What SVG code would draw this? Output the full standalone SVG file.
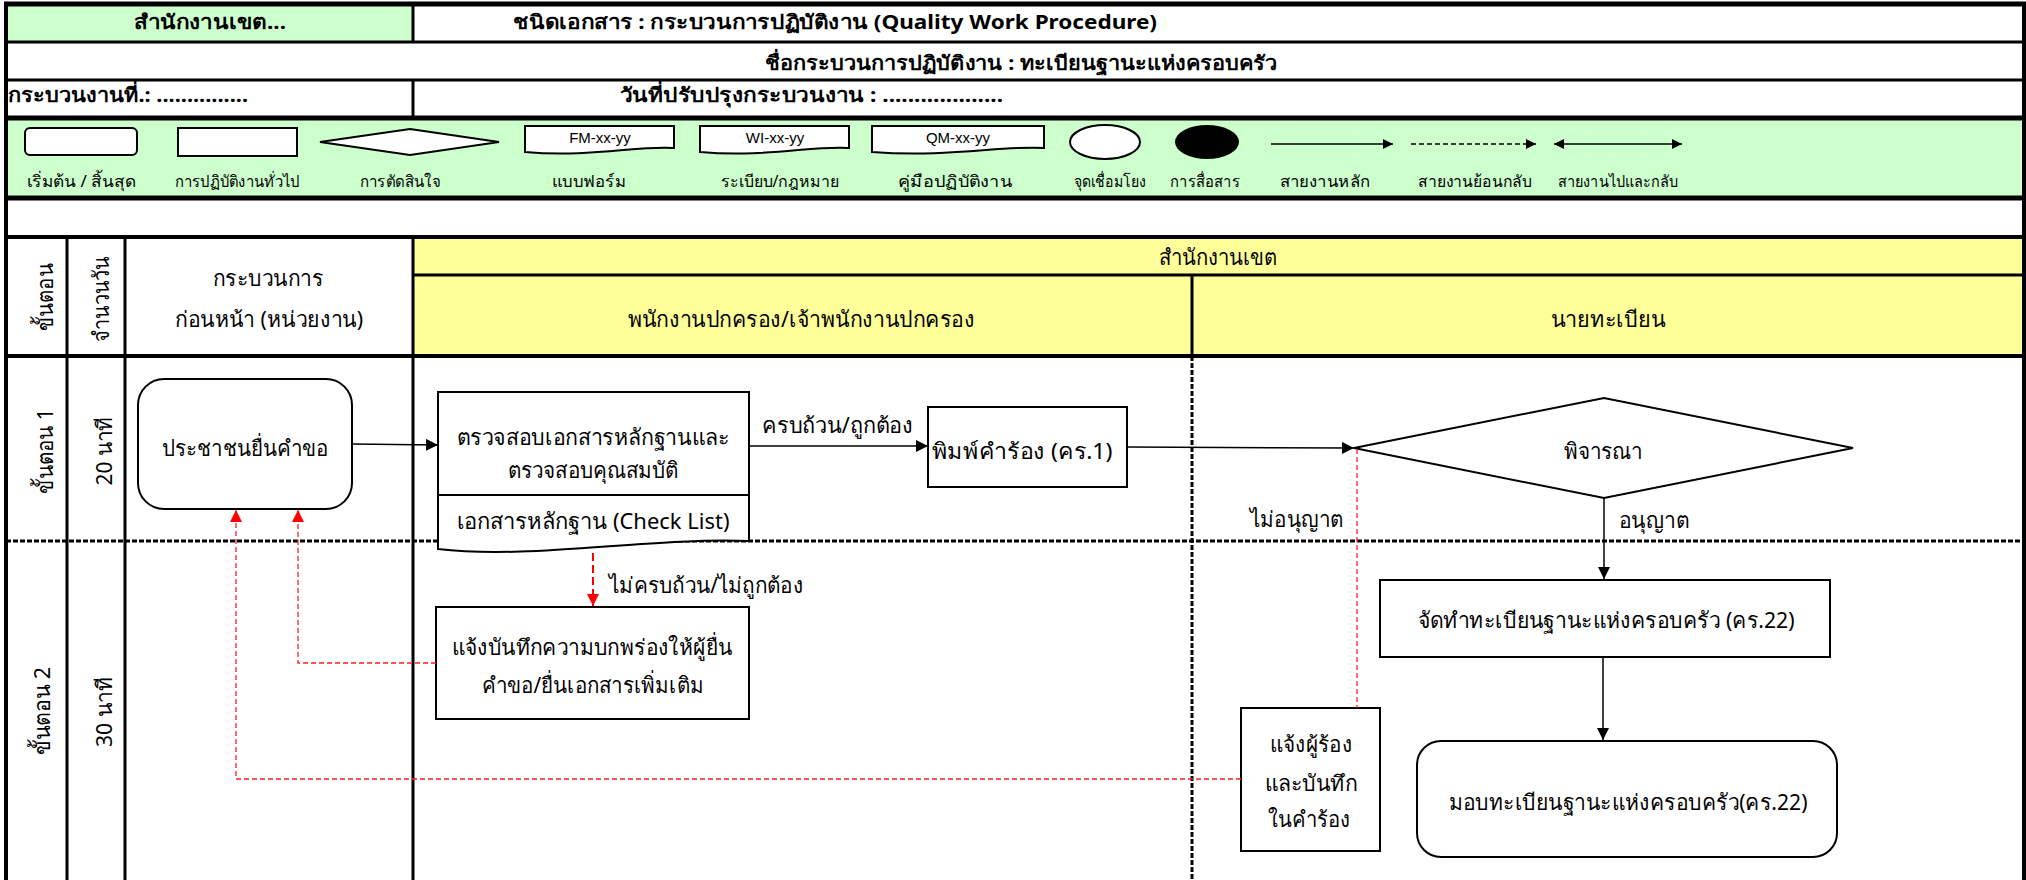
<svg xmlns="http://www.w3.org/2000/svg" width="2026" height="880" viewBox="0 0 2026 880">
<defs>
<style>
.t{font-family:"Noto Sans","DejaVu Sans",sans-serif;fill:#000}
.b{font-weight:bold;font-size:20px}
.n{font-size:22px}
.lg{font-size:16px}
.a{font-family:"Liberation Sans",Arial,sans-serif;font-size:15px;fill:#000}
.c{text-anchor:middle}
.box{fill:#fff;stroke:#000;stroke-width:2}
.g{stroke:#000;fill:none}
.con{stroke:#000;stroke-width:1.5;fill:none}
.red{stroke:#ff2020;stroke-width:1.3;stroke-dasharray:5 3;fill:none}
.dot{stroke:#000;stroke-width:3;stroke-dasharray:5 2;fill:none}
</style>
<marker id="ah" viewBox="0 0 10 10" refX="10" refY="5" markerWidth="12" markerHeight="12" markerUnits="userSpaceOnUse" orient="auto-start-reverse"><path d="M0,0 L10,5 L0,10 z" fill="#000"/></marker>
<marker id="ahs" viewBox="0 0 10 10" refX="10" refY="5" markerWidth="10" markerHeight="10" markerUnits="userSpaceOnUse" orient="auto-start-reverse"><path d="M0,0 L10,5 L0,10 z" fill="#000"/></marker>
<marker id="ar" viewBox="0 0 10 10" refX="10" refY="5" markerWidth="12" markerHeight="12" markerUnits="userSpaceOnUse" orient="auto"><path d="M0,0 L10,5 L0,10 z" fill="#ff0000"/></marker>
</defs>
<rect width="2026" height="880" fill="#fff"/>

<g id="grid">
<rect x="6" y="4" width="407" height="38" fill="#ccffcc"/>
<rect x="6" y="118" width="2018" height="80" fill="#ccffcc"/>
<rect x="413" y="237" width="1611" height="119" fill="#ffff99"/>
<line class="g" x1="4" y1="4" x2="2026" y2="4" stroke-width="5"/>
<line class="g" x1="6" y1="42" x2="2024" y2="42" stroke-width="3"/>
<line class="g" x1="6" y1="80" x2="2024" y2="80" stroke-width="3"/>
<line class="g" x1="6" y1="118" x2="2024" y2="118" stroke-width="5"/>
<line class="g" x1="6" y1="198" x2="2024" y2="198" stroke-width="5"/>
<line class="g" x1="6" y1="237" x2="2024" y2="237" stroke-width="4"/>
<line class="g" x1="413" y1="275" x2="2024" y2="275" stroke-width="3"/>
<line class="g" x1="6" y1="356" x2="2024" y2="356" stroke-width="4"/>
<line class="g" x1="6" y1="4" x2="6" y2="880" stroke-width="4"/>
<line class="g" x1="2024" y1="4" x2="2024" y2="880" stroke-width="4"/>
<line class="g" x1="413" y1="4" x2="413" y2="42" stroke-width="3"/>
<line class="g" x1="413" y1="80" x2="413" y2="118" stroke-width="3"/>
<line class="g" x1="67" y1="237" x2="67" y2="880" stroke-width="3"/>
<line class="g" x1="125" y1="237" x2="125" y2="880" stroke-width="3"/>
<line class="g" x1="413" y1="237" x2="413" y2="880" stroke-width="3"/>
<line class="g" x1="1192" y1="275" x2="1192" y2="356" stroke-width="3"/>
<line class="dot" x1="1192" y1="356" x2="1192" y2="880"/>
<line class="dot" x1="6" y1="541" x2="2024" y2="541"/>
</g>

<g id="header-texts">
<text class="t b c" x="210" y="29" textLength="152" lengthAdjust="spacingAndGlyphs">สำนักงานเขต...</text>
<text class="t b" x="513" y="29" textLength="644" lengthAdjust="spacingAndGlyphs">ชนิดเอกสาร : กระบวนการปฏิบัติงาน (Quality Work Procedure)</text>
<text class="t b" x="765" y="70" textLength="512" lengthAdjust="spacingAndGlyphs">ชื่อกระบวนการปฏิบัติงาน : ทะเบียนฐานะแห่งครอบครัว</text>
<text class="t b" x="8" y="102" textLength="240" lengthAdjust="spacingAndGlyphs">กระบวนงานที่.: ...............</text>
<text class="t b" x="620" y="102" textLength="383" lengthAdjust="spacingAndGlyphs">วันที่ปรับปรุงกระบวนงาน : ...................</text>
</g>

<g id="legend">
<rect class="box" x="25" y="128" width="112" height="27" rx="5" stroke-width="1.5"/>
<rect class="box" x="178" y="128" width="119" height="28" stroke-width="1.5"/>
<polygon class="box" points="320,142 410,129 499,142 410,155" stroke-width="1.5"/>
<path class="box" d="M525,126 H674 V148 C640,145 590,158 525,152 Z" stroke-width="1.5"/>
<text class="a c" x="600" y="143">FM-xx-yy</text>
<path class="box" d="M700,126 H849 V148 C815,145 765,158 700,152 Z" stroke-width="1.5"/>
<text class="a c" x="775" y="143">WI-xx-yy</text>
<path class="box" d="M872,126 H1044 V148 C1005,145 948,158 872,152 Z" stroke-width="1.5"/>
<text class="a c" x="958" y="143">QM-xx-yy</text>
<ellipse class="box" cx="1105" cy="142" rx="35" ry="17" stroke-width="1.5"/>
<ellipse cx="1207" cy="142" rx="32" ry="17" fill="#000"/>
<line class="con" x1="1271" y1="144" x2="1393" y2="144" marker-end="url(#ahs)"/>
<line class="con" x1="1411" y1="144" x2="1536" y2="144" stroke-dasharray="5 3" marker-end="url(#ahs)"/>
<line class="con" x1="1554" y1="144" x2="1682" y2="144" marker-start="url(#ahs)" marker-end="url(#ahs)"/>
<text class="t lg c" x="81" y="187" textLength="109" lengthAdjust="spacingAndGlyphs">เริ่มต้น / สิ้นสุด</text>
<text class="t lg c" x="237" y="187" textLength="125" lengthAdjust="spacingAndGlyphs">การปฏิบัติงานทั่วไป</text>
<text class="t lg c" x="400" y="187" textLength="81" lengthAdjust="spacingAndGlyphs">การตัดสินใจ</text>
<text class="t lg c" x="589" y="187" textLength="74" lengthAdjust="spacingAndGlyphs">แบบฟอร์ม</text>
<text class="t lg c" x="780" y="187" textLength="118" lengthAdjust="spacingAndGlyphs">ระเบียบ/กฎหมาย</text>
<text class="t lg c" x="955" y="187" textLength="114" lengthAdjust="spacingAndGlyphs">คู่มือปฏิบัติงาน</text>
<text class="t lg c" x="1110" y="187" textLength="72" lengthAdjust="spacingAndGlyphs">จุดเชื่อมโยง</text>
<text class="t lg c" x="1205" y="187" textLength="70" lengthAdjust="spacingAndGlyphs">การสื่อสาร</text>
<text class="t lg c" x="1325" y="187" textLength="91" lengthAdjust="spacingAndGlyphs">สายงานหลัก</text>
<text class="t lg c" x="1475" y="187" textLength="114" lengthAdjust="spacingAndGlyphs">สายงานย้อนกลับ</text>
<text class="t lg c" x="1618" y="187" textLength="120" lengthAdjust="spacingAndGlyphs">สายงานไปและกลับ</text>
</g>

<g id="lane-headers">
<text class="t n" transform="translate(53,297) rotate(-90)" text-anchor="middle" textLength="67" lengthAdjust="spacingAndGlyphs">ขั้นตอน</text>
<text class="t n" transform="translate(109,299) rotate(-90)" text-anchor="middle" textLength="85" lengthAdjust="spacingAndGlyphs">จำนวนวัน</text>
<text class="t n c" x="268" y="286" textLength="110" lengthAdjust="spacingAndGlyphs">กระบวนการ</text>
<text class="t n c" x="269" y="327" textLength="188" lengthAdjust="spacingAndGlyphs">ก่อนหน้า (หน่วยงาน)</text>
<text class="t n c" x="1218" y="265" textLength="118" lengthAdjust="spacingAndGlyphs">สำนักงานเขต</text>
<text class="t n c" x="801" y="327" textLength="347" lengthAdjust="spacingAndGlyphs">พนักงานปกครอง/เจ้าพนักงานปกครอง</text>
<text class="t n c" x="1608" y="327" textLength="115" lengthAdjust="spacingAndGlyphs">นายทะเบียน</text>
<text class="t n" transform="translate(53,451) rotate(-90)" text-anchor="middle" textLength="85" lengthAdjust="spacingAndGlyphs">ขั้นตอน 1</text>
<text class="t n" transform="translate(112,451) rotate(-90)" text-anchor="middle" textLength="69" lengthAdjust="spacingAndGlyphs">20 นาที</text>
<text class="t n" transform="translate(50,711) rotate(-90)" text-anchor="middle" textLength="88" lengthAdjust="spacingAndGlyphs">ขั้นตอน 2</text>
<text class="t n" transform="translate(112,712) rotate(-90)" text-anchor="middle" textLength="70" lengthAdjust="spacingAndGlyphs">30 นาที</text>
</g>

<g id="n-request">
<rect class="box" x="138" y="379" width="214" height="130" rx="26"/>
<text class="t n c" x="245" y="456" textLength="166" lengthAdjust="spacingAndGlyphs">ประชาชนยื่นคำขอ</text>
</g>

<g id="n-check">
<rect class="box" x="438" y="392" width="311" height="103"/>
<path class="box" d="M438,495 H749 V541 C650,537 530,560 438,549 Z"/>
<text class="t n c" x="593" y="445" textLength="273" lengthAdjust="spacingAndGlyphs">ตรวจสอบเอกสารหลักฐานและ</text>
<text class="t n c" x="593" y="478" textLength="171" lengthAdjust="spacingAndGlyphs">ตรวจสอบคุณสมบัติ</text>
<text class="t n c" x="593" y="529" textLength="273" lengthAdjust="spacingAndGlyphs">เอกสารหลักฐาน (Check List)</text>
</g>

<g id="n-print">
<rect class="box" x="928" y="407" width="199" height="80"/>
<text class="t n c" x="1022" y="459" textLength="181" lengthAdjust="spacingAndGlyphs">พิมพ์คำร้อง (คร.1)</text>
</g>

<g id="n-consider">
<polygon class="box" points="1354,448 1604,398 1853,448 1604,498"/>
<text class="t n c" x="1603" y="459" textLength="79" lengthAdjust="spacingAndGlyphs">พิจารณา</text>
</g>

<g id="n-notify-defect">
<rect class="box" x="436" y="607" width="313" height="112"/>
<text class="t n c" x="592" y="655" textLength="281" lengthAdjust="spacingAndGlyphs">แจ้งบันทึกความบกพร่องให้ผู้ยื่น</text>
<text class="t n c" x="593" y="693" textLength="222" lengthAdjust="spacingAndGlyphs">คำขอ/ยื่นเอกสารเพิ่มเติม</text>
</g>

<g id="n-make">
<rect class="box" x="1380" y="580" width="450" height="77"/>
<text class="t n c" x="1606" y="628" textLength="377" lengthAdjust="spacingAndGlyphs">จัดทำทะเบียนฐานะแห่งครอบครัว (คร.22)</text>
</g>

<g id="n-notify-applicant">
<rect class="box" x="1241" y="708" width="139" height="143"/>
<text class="t n c" x="1311" y="752" textLength="82" lengthAdjust="spacingAndGlyphs">แจ้งผู้ร้อง</text>
<text class="t n c" x="1311" y="791" textLength="93" lengthAdjust="spacingAndGlyphs">และบันทึก</text>
<text class="t n c" x="1309" y="827" textLength="82" lengthAdjust="spacingAndGlyphs">ในคำร้อง</text>
</g>

<g id="n-deliver">
<rect class="box" x="1417" y="741" width="420" height="116" rx="24"/>
<text class="t n c" x="1628" y="810" textLength="359" lengthAdjust="spacingAndGlyphs">มอบทะเบียนฐานะแห่งครอบครัว(คร.22)</text>
</g>

<g id="connectors">
<line class="con" x1="352" y1="444" x2="438" y2="445" marker-end="url(#ah)"/>
<line class="con" x1="749" y1="446" x2="928" y2="446" marker-end="url(#ah)"/>
<text class="t n" x="762" y="433" textLength="151" lengthAdjust="spacingAndGlyphs">ครบถ้วน/ถูกต้อง</text>
<line class="con" x1="1127" y1="447" x2="1354" y2="448" marker-end="url(#ah)"/>
<line class="con" x1="1604" y1="498" x2="1604" y2="579" marker-end="url(#ah)"/>
<text class="t n" x="1619" y="528" textLength="70" lengthAdjust="spacingAndGlyphs">อนุญาต</text>
<line class="con" x1="1603" y1="657" x2="1603" y2="740" marker-end="url(#ah)"/>
<line x1="593" y1="553" x2="593" y2="606" stroke="#ff0000" stroke-width="2" stroke-dasharray="8 4" marker-end="url(#ar)"/>
<text class="t n" x="609" y="593" textLength="194" lengthAdjust="spacingAndGlyphs">ไม่ครบถ้วน/ไม่ถูกต้อง</text>
<polyline class="red" points="436,663 298,663 298,510" marker-end="url(#ar)"/>
<polyline class="red" points="1357,449 1357,708"/>
<text class="t n" x="1250" y="527" textLength="93" lengthAdjust="spacingAndGlyphs">ไม่อนุญาต</text>
<polyline class="red" points="1241,779 236,779 236,510" marker-end="url(#ar)"/>
</g>
</svg>
